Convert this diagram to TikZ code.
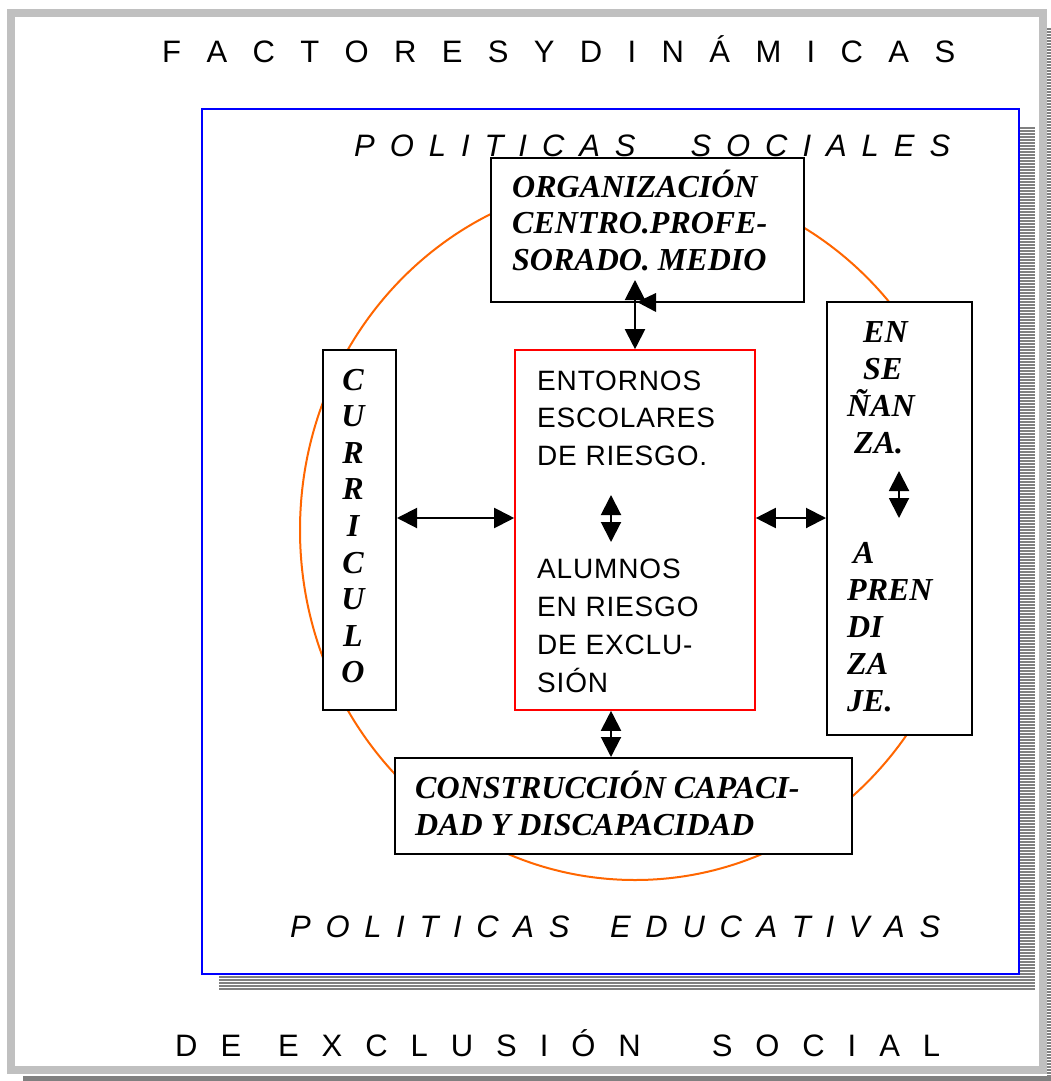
\documentclass[tikz,border=0pt]{standalone}
\usepackage{fontspec}
\setmainfont{Liberation Serif}
\setsansfont{Liberation Sans}
\usetikzlibrary{arrows.meta,patterns}
\definecolor{frameg}{HTML}{C0C0C0}
\definecolor{shadg}{HTML}{808080}
\definecolor{orng}{HTML}{FF6600}
\newcommand\stackL[1]{\vtop{\lineskiplimit=-100pt\halign{##\hfil\cr#1\crcr}}}
\newcommand\stackC[1]{\vtop{\lineskiplimit=-100pt\halign{\hfil##\hfil\cr#1\crcr}}}
\newcommand\bif[1]{\fontsize{32}{#1}\selectfont\bfseries\itshape}
\newcommand\ttl{\fontsize{31}{31}\selectfont\sffamily}
\newcommand\rtx[1]{\fontsize{28}{#1}\selectfont\sffamily\addfontfeature{LetterSpace=3}}
\begin{document}
\begin{tikzpicture}[x=1pt,y=-1pt,
  bx/.style={draw=black,line width=2pt,fill=white,inner sep=0pt},
  txt/.style={inner sep=0pt,anchor=base west},
  arr/.style={{Triangle[length=20pt,width=20pt]}-{Triangle[length=20pt,width=20pt]},line width=2pt},
  stripe/.style={pattern=horizontal lines,pattern color=white}]
\useasboundingbox (0,0) rectangle (1051,1081);
\fill[white] (0,0) rectangle (1051,1081);
% outer frame and its shadow
\fill[shadg] (1047,27) rectangle (1051,1081);
\fill[stripe] (1047,27) rectangle (1051,1081);
\fill[shadg] (23,1076) rectangle (1051,1081);
\node[draw=frameg,line width=8pt,minimum width=1031.5pt,minimum height=1056pt,inner sep=0pt] (frame) at (526.75,541.5) {};
% blue box shadow
\fill[shadg] (1020,126) rectangle (1035,990);
\fill[shadg] (219,975) rectangle (1035,990);
\fill[stripe] (1020,126) rectangle (1035,990);
\fill[stripe] (219,975) rectangle (1035,990);
\node[draw=blue,line width=2.5pt,fill=white,minimum width=817pt,minimum height=865pt,inner sep=0pt] (pol) at (610.5,541.5) {};
% orange ellipse
\draw[orng,line width=2pt] (635,530) ellipse [x radius=335, y radius=350];
% titles
\node[txt] (t1) at (162,63) {\ttl\makebox[793pt][s]{F A C T O R E S Y D I N Á M I C A S}};
\node[txt] (t2) at (354,156) {\ttl\itshape\makebox[596pt][s]{P O L I T I C A S\hspace{40pt} S O C I A L E S}};
\node[txt] (t3) at (290,937) {\ttl\itshape\makebox[650pt][s]{P O L I T I C A S\hspace{26pt} E D U C A T I V A S}};
\node[txt] (t4) at (175,1056) {\ttl\makebox[765pt][s]{D E\hspace{14pt} E X C L U S I Ó N\hspace{48pt} S O C I A L}};
% boxes
\node[bx,minimum width=313pt,minimum height=144pt] (org) at (647.5,230) {};
\node[draw=red,line width=1.6pt,fill=white,inner sep=0pt,minimum width=240pt,minimum height=360pt] (red) at (635,530) {};
\node[bx,minimum width=73pt,minimum height=360pt] (cur) at (359.5,530) {};
\node[bx,minimum width=145pt,minimum height=433pt] (ens) at (899.5,518.5) {};
\node[bx,minimum width=457pt,minimum height=96pt] (cons) at (623.5,806) {};
% texts
\node[txt] (orgt) at (512,197) {\bif{36.5}\stackL{ORGANIZACIÓN\cr CENTRO.PROFE-\cr SORADO. MEDIO}};
\node[txt] (redt1) at (537,390) {\rtx{37.5}\stackL{ENTORNOS\cr ESCOLARES\cr DE RIESGO.}};
\node[txt] (redt2) at (537,578) {\rtx{38}\stackL{ALUMNOS\cr EN RIESGO\cr DE EXCLU-\cr SIÓN}};
\node[inner sep=0pt,anchor=base] (curt) at (353,390) {\bif{36.6}\stackC{C\cr U\cr R\cr R\cr I\cr C\cr U\cr L\cr O}};
\node[txt] (enst1) at (847,342) {\bif{37}\stackL{\hspace*{16pt}EN\cr\hspace*{16pt}SE\cr ÑAN\cr\hspace*{7pt}ZA.}};
\node[txt] (enst2) at (847,563) {\bif{37}\stackL{\hspace*{6pt}A\cr PREN\cr DI\cr ZA\cr JE.}};
\node[txt] (const) at (415,798) {\bif{37}\stackL{CONSTRUCCIÓN CAPACI-\cr DAD Y DISCAPACIDAD}};
% connectors
\coordinate (orgtip) at (635,280);
\coordinate (midy) at (0,518);
\coordinate (mx) at (611,0);
\draw[arr] (orgtip) -- (orgtip |- red.north);
\fill (637,302) -- (656,293) -- (656,312) -- cycle;
\draw[arr] (cur.east |- midy) -- (red.west |- midy);
\draw[arr] (red.east |- midy) -- (ens.west |- midy);
\draw[arr] (red.south -| mx) -- (cons.north -| mx);
\coordinate (ra) at (611,495);
\coordinate (rb) at (611,542);
\draw[arr] (ra) -- (rb);
\coordinate (ea) at (899,471);
\coordinate (eb) at (899,518);
\draw[arr] (ea) -- (eb);
\end{tikzpicture}
\end{document}
